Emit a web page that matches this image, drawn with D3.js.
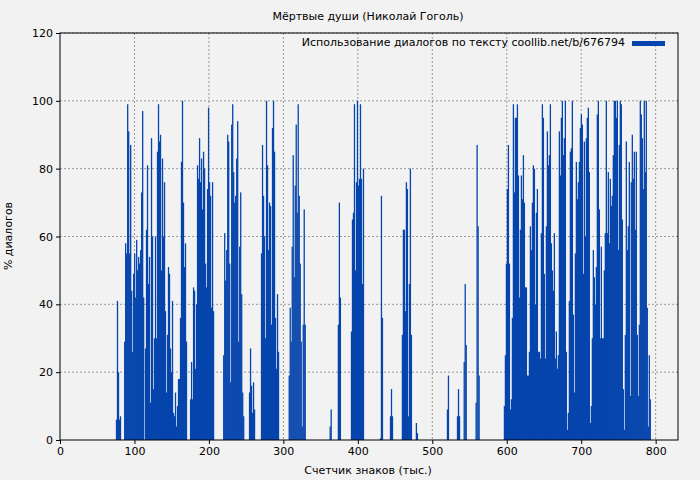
<!DOCTYPE html>
<html><head><meta charset="utf-8">
<script src="https://cdn.jsdelivr.net/npm/d3@7"></script>
<style>body{margin:0;background:#f2f2f2}svg{display:block}text{font-family:"DejaVu Sans",sans-serif}</style>
</head><body><svg id="c" width="700" height="480"></svg>
<script>
const title = "Мёртвые души (Николай Гоголь)";
const legendLabel = "Использование диалогов по тексту coollib.net/b/676794";
const xLabel = "Счетчик знаков (тыс.)";
const yLabel = "% диалогов";
const xTicks = [0,100,200,300,400,500,600,700,800];
const yTicks = [0,20,40,60,80,100,120];
const step = 1.342;
// segment start positions (thousand chars) and dialogue percentages per bar
const segStarts = [75,86,114,174.5,219,253.7,269.8,307,362,373,390.6,429.5,443,459,519.5,533,542,558,596];
const segValues = [
 [6,41,20,6,7],
 [29,58,55,99,91,55,87,44,26,49,55,42,59,50,54,52,56,73,97,42],
 [27,62,81,46,54,11,89,60,15,30,60,30,85,99,88,90,50,83,60,76,38,14,31,51,49,27,20,41,8,7,14,4,10,18,18,36,82,100,70,51,58,29],
 [12,23,12,45,44,21,40,81,77,89,76,83,68,85,80,52,45,74,98,76,72,39,76,38],
 [25,61,47,56,90,88,52,17,93,99,79,70,72,83,94,29,57,73,43,14,7],
 [14,27,16,8,17,9],
 [55,87,72,60,30,100,81,56,70,69,34,92,100,85,36,21,43,26],
 [19,39,29,57,84,48,75,93,67,99,72,52,29,4,34,68,34],
 [4,9],
 [34,70,42],
 [32,65,67,99,50,76,100,75,77,99,77,46,80],
 [0.5,72,36],
 [7,15,7],
 [31,62,62,38,76,74,7,46,80,31,0,0,0,0,5,2],
 [9,19],
 [7,15,7],
 [23,46,28],
 [11,87,63,19],
 [10,25,52,74,87,52,9,12,36,99,73,95,95,99,78,42,62,78,71,84,70,45,45,19,19,26,63,56,70,81,80,40,67,74,26,26,24,61,99,95,49,24,63,91,81,84,99,58,50,44,61,24,32,21,25,91,78,95,100,84,89,100,26,3,8,41,85,86,100,37,14,55,82,71,76,82,92,96,93,49,88,60,89,95,98,79,5,10,30,56,48,40,51,96,100,68,30,57,30,30,50,61,100,61,79,58,77,69,72,84,100,100,95,100,56,87,100,99,65,15,3,31,88,56,63,82,13,76,90,77,85,62,85,31,13,34,100,96,89,74,100,79,100,39,4,25,12]
];
const bars = [];
segStarts.forEach((s,i)=>segValues[i].forEach((v,j)=>bars.push({x:s+j*step,v})));

const svg = d3.select("#c");
const m = {l:60,r:678,t:33,b:440};
const x = d3.scaleLinear().domain([0,830]).range([m.l,m.r]);
const y = d3.scaleLinear().domain([0,120]).range([m.b,m.t]);

svg.append("rect").attr("width",700).attr("height",480).attr("fill","#f2f2f2");
// grid
svg.append("g").selectAll("line").data(xTicks.slice(1)).join("line")
 .attr("x1",d=>x(d)).attr("x2",d=>x(d)).attr("y1",m.t).attr("y2",m.b)
 .attr("stroke","#999").attr("stroke-dasharray","2,2");
svg.append("g").selectAll("line").data(yTicks.slice(1)).join("line")
 .attr("x1",m.l).attr("x2",m.r).attr("y1",d=>y(d)).attr("y2",d=>y(d))
 .attr("stroke","#999").attr("stroke-dasharray","2,2");
// bars
const bw = x(step)-x(0)+0.3;
svg.append("g").selectAll("rect").data(bars).join("rect")
 .attr("x",d=>x(d.x)).attr("width",bw).attr("y",d=>y(d.v)).attr("height",d=>y(0)-y(d.v))
 .attr("fill","#0645ad");
// frame
svg.append("rect").attr("x",m.l).attr("y",m.t).attr("width",m.r-m.l).attr("height",m.b-m.t)
 .attr("fill","none").attr("stroke","#000");
// axes
const xa = svg.append("g").attr("transform",`translate(0,${m.b})`).call(d3.axisBottom(x).tickValues(xTicks).tickSize(4).tickSizeOuter(0));
const ya = svg.append("g").attr("transform",`translate(${m.l},0)`).call(d3.axisLeft(y).tickValues(yTicks).tickSize(4).tickSizeOuter(0));
[xa,ya].forEach(a=>{a.select(".domain").remove();a.selectAll("text").attr("font-size",11).attr("fill","#000");});
svg.append("text").attr("x",368).attr("y",20).attr("text-anchor","middle").attr("font-size",11).text(title);
svg.append("text").attr("x",368).attr("y",474).attr("text-anchor","middle").attr("font-size",11).text(xLabel);
svg.append("text").attr("transform","translate(12,236) rotate(-90)").attr("text-anchor","middle").attr("font-size",11).text(yLabel);
svg.append("text").attr("x",625).attr("y",46).attr("text-anchor","end").attr("font-size",11).text(legendLabel);
svg.append("rect").attr("x",632).attr("y",41).attr("width",33).attr("height",5).attr("fill","#0645ad");
</script></body></html>
